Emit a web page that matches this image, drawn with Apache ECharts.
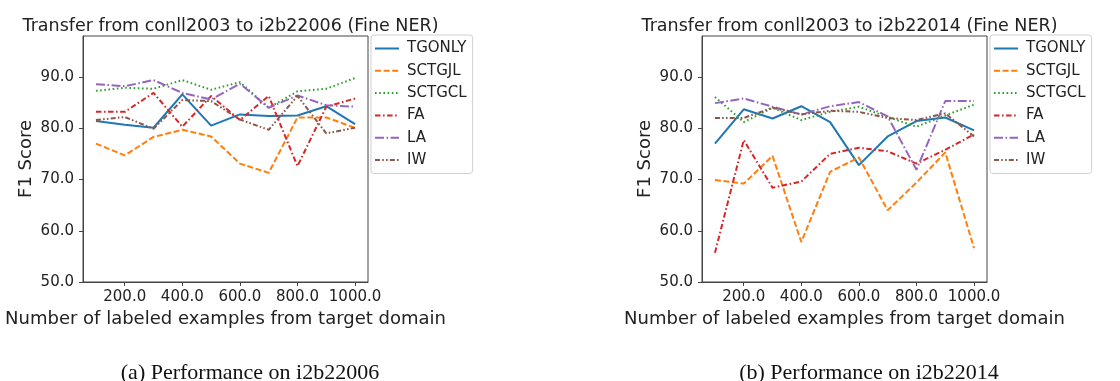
<!DOCTYPE html>
<html>
<head>
<meta charset="utf-8">
<script src="https://cdn.jsdelivr.net/npm/echarts@6/dist/echarts.min.js"></script>
<style>
  html, body { margin: 0; padding: 0; background: #fff; }
  #chart { width: 1120px; height: 381px; }
</style>
</head>
<body>
<div id="chart"></div>
<script>
// number of labeled target examples
const xValues = [100, 200, 300, 400, 500, 600, 700, 800, 900, 1000]
const xTicks = [200, 400, 600, 800, 1000]
const yTicks = [50, 60, 70, 80, 90]

const methods = ['TGONLY', 'SCTGJL', 'SCTGCL', 'FA', 'LA', 'IW']

// (a) i2b22006
const tgonlyA = [81.4, 80.7, 80.1, 86.6, 80.5, 82.7, 82.4, 82.5, 84.3, 80.8]
const sctgjlA = [77.0, 74.7, 78.3, 79.7, 78.4, 73.1, 71.3, 82.1, 82.1, 80.1]
const sctgclA = [87.3, 87.9, 87.7, 89.4, 87.5, 89.0, 84.0, 87.2, 87.7, 89.8]
const faA = [83.2, 83.2, 86.9, 80.3, 86.3, 81.6, 86.3, 72.6, 84.2, 85.8]
const laA = [88.6, 88.2, 89.4, 86.9, 85.6, 88.7, 84.0, 86.4, 84.5, 84.2]
const iwA = [81.6, 82.2, 79.9, 85.5, 85.3, 81.7, 79.7, 86.3, 79.0, 80.1]

// (b) i2b22014
const tgonlyB = [77.0, 83.7, 81.9, 84.3, 81.2, 72.8, 78.4, 81.4, 82.1, 79.6]
const sctgjlB = [69.9, 69.2, 74.6, 57.8, 71.5, 74.3, 64.0, 69.4, 75.3, 56.6]
const sctgclB = [86.1, 81.2, 84.0, 81.6, 83.2, 84.2, 82.2, 80.3, 82.5, 84.6]
const faB = [55.7, 77.7, 68.4, 69.6, 75.0, 76.2, 75.5, 73.1, 75.8, 78.8]
const laB = [84.9, 85.8, 84.2, 82.7, 84.3, 85.1, 82.3, 71.9, 85.3, 85.3]
const iwB = [82.0, 82.0, 84.0, 82.7, 83.4, 83.2, 82.0, 81.6, 82.9, 78.4]

const colors = ['#1f77b4', '#ff7f0e', '#2ca02c', '#d62728', '#9467bd', '#8c564b']
const dashes = ['solid', [6, 2.6], [1.6, 2.6], [5.5, 2.5, 1.6, 2.5], [9, 2.5, 1.6, 2.5], [5, 2.2, 1.6, 2.2, 1.6, 2.2]]

const font = 'DejaVu Sans'
const panels = [
  { left: 83, data: [tgonlyA, sctgjlA, sctgclA, faA, laA, iwA],
    title: 'Transfer from conll2003 to i2b22006 (Fine NER)', caption: '(a) Performance on i2b22006', legendLeft: 371 },
  { left: 702, data: [tgonlyB, sctgjlB, sctgclB, faB, laB, iwB],
    title: 'Transfer from conll2003 to i2b22014 (Fine NER)', caption: '(b) Performance on i2b22014', legendLeft: 990 },
]
const gridW = 285
const gridTop = 36
const gridH = 246

const chart = echarts.init(document.getElementById('chart'), null, { renderer: 'canvas' })

const option = {
  animation: false,
  backgroundColor: '#fff',
  title: [],
  legend: [],
  grid: [],
  xAxis: [],
  yAxis: [],
  series: [],
}

panels.forEach((p, i) => {
  const cx = p.left + gridW / 2
  option.title.push({
    text: p.title, left: cx, top: 12, textAlign: 'center',
    textStyle: { fontFamily: font, fontSize: 17.5, fontWeight: 'normal', color: '#222' },
  })
  option.title.push({
    text: p.caption, left: cx + 19.5, top: 357, textAlign: 'center',
    textStyle: { fontFamily: 'Liberation Serif', fontSize: 22, fontWeight: 'normal', color: '#111' },
  })
  option.grid.push({
    left: p.left, top: gridTop, width: gridW, height: gridH,
    show: true, borderColor: '#444', borderWidth: 1,
  })
  option.legend.push({
    data: methods, orient: 'vertical', left: p.legendLeft, top: 35,
    itemWidth: 24, itemHeight: 14, itemGap: 7.3,
    padding: [6, 6, 6, 3],
    borderColor: '#d0d0d0', borderWidth: 1, borderRadius: 3,
    itemStyle: { opacity: 0 },
    textStyle: { fontFamily: font, fontSize: 15, color: '#222', padding: [0, 0, 0, 3] },
  })
  option.xAxis.push({
    type: 'value', gridIndex: i, min: 55, max: 1045,
    name: 'Number of labeled examples from target domain',
    nameLocation: 'middle', nameGap: 27,
    nameTextStyle: { fontFamily: font, fontSize: 18, color: '#222' },
    splitLine: { show: false },
    axisLine: { show: true, lineStyle: { color: '#444' } },
    axisTick: { show: true, length: 4, customValues: xTicks, lineStyle: { color: '#444' } },
    axisLabel: {
      customValues: xTicks, margin: 8,
      fontFamily: font, fontSize: 15, color: '#222',
      formatter: v => v.toFixed(1),
    },
  })
  option.yAxis.push({
    type: 'value', gridIndex: i, min: 50, max: 98,
    name: 'F1 Score', nameLocation: 'middle', nameGap: 48, nameRotate: 90,
    nameTextStyle: { fontFamily: font, fontSize: 18, color: '#222' },
    splitLine: { show: false },
    axisLine: { show: true, lineStyle: { color: '#444' } },
    axisTick: { show: true, length: 4, customValues: yTicks, lineStyle: { color: '#444' } },
    axisLabel: {
      customValues: yTicks, margin: 9,
      fontFamily: font, fontSize: 15, color: '#222',
      formatter: v => v.toFixed(1),
    },
  })
  p.data.forEach((vals, k) => {
    option.series.push({
      type: 'line', name: methods[k], xAxisIndex: i, yAxisIndex: i,
      data: xValues.map((x, j) => [x, vals[j]]),
      symbol: 'none', showSymbol: false,
      color: colors[k],
      lineStyle: { width: 2, color: colors[k], type: dashes[k] },
    })
  })
})

chart.setOption(option)
</script>
</body>
</html>
